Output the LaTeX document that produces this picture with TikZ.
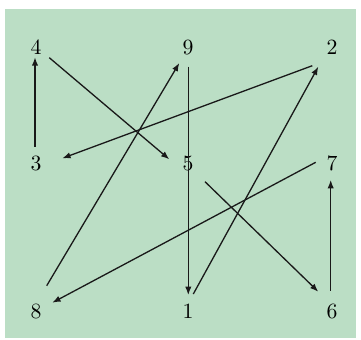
\documentclass[tikz,border=0pt]{standalone}
\usetikzlibrary{arrows.meta}
\definecolor{bggreen}{RGB}{187,222,197}
\tikzset{
  lbl/.style={inner sep=0pt, font=\normalsize},
  edge/.style={line width=0.6pt, -{Latex[length=3.8pt,width=2.9pt]}, draw=black!90}
}
\begin{document}
\begin{tikzpicture}[x=0.46pt,y=-0.46pt]
\useasboundingbox (0,0) rectangle (361,339);
\fill[white] (0,0) rectangle (361,339);
\fill[bggreen] (5,9) rectangle (356,338);
% nodes
\node[lbl] (n4) at (36,47) {4};
\node[lbl] (n9) at (188,47) {9};
\node[lbl] (n2) at (332,47) {2};
\node[lbl] (n3) at (36,163) {3};
\node[lbl] (n5) at (188,163) {5};
\node[lbl] (n7) at (332,163) {7};
\node[lbl] (n8) at (36,311) {8};
\node[lbl] (n1) at (188,311) {1};
\node[lbl] (n6) at (332,311) {6};
% connectors
\draw[edge] ([shift={(-1,-16.3)}]n3.center) -- ([shift={(-1,10.3)}]n4.center);
\draw[edge] ([shift={(13.3,10.7)}]n4.center) -- ([shift={(-18.7,-3.7)}]n5.center);
\draw[edge] ([shift={(0.3,19.7)}]n9.center) -- ([shift={(0.3,-16)}]n1.center);
\draw[edge] ([shift={(5.3,-17)}]n1.center) -- ([shift={(-13.7,19.7)}]n2.center);
\draw[edge] ([shift={(-19.7,18.7)}]n2.center) -- ([shift={(26.3,-4.7)}]n3.center);
\draw[edge] ([shift={(10.7,-25.3)}]n8.center) -- ([shift={(-8.7,16)}]n9.center);
\draw[edge] ([shift={(17,18.7)}]n5.center) -- ([shift={(-13.7,-19.3)}]n6.center);
\draw[edge] ([shift={(-16.3,-0.7)}]n7.center) -- ([shift={(16.3,-8.3)}]n8.center);
\draw[edge] ([shift={(-1.3,-20.3)}]n6.center) -- ([shift={(-1.3,17)}]n7.center);
\end{tikzpicture}
\end{document}
